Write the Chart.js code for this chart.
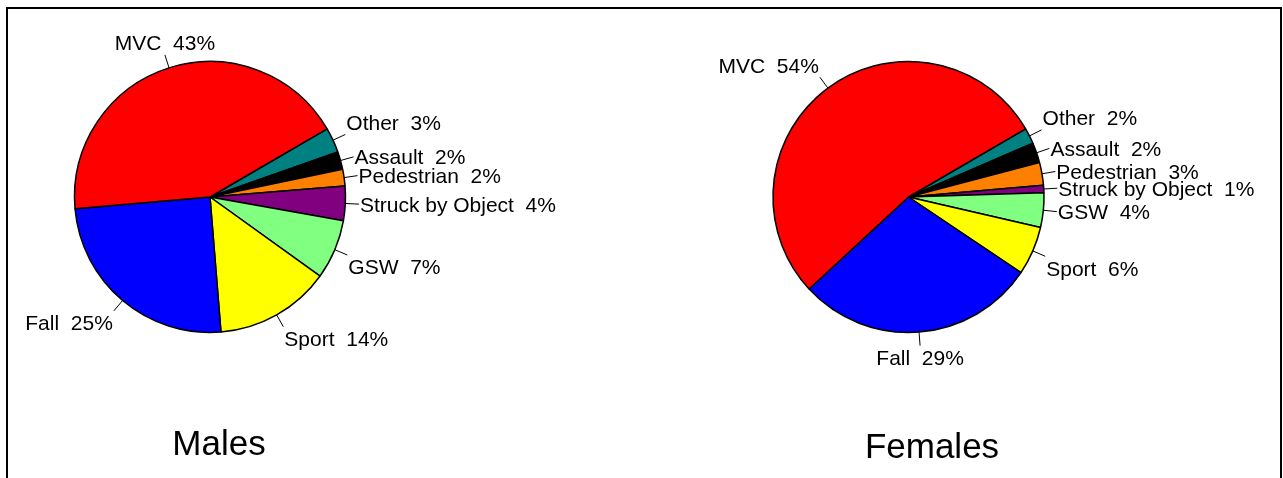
<!DOCTYPE html>
<html>
<head>
<meta charset="utf-8">
<title>Injury mechanism by sex</title>
<script src="https://cdn.jsdelivr.net/npm/chart.js@4.4.1/dist/chart.umd.min.js"></script>
<style>
  html, body { margin: 0; padding: 0; background: #fff; }
  body { width: 1283px; height: 478px; position: relative; overflow: hidden; }
  .frame { position: absolute; left: 6px; top: 7px; width: 1276px; height: 500px; border: 2px solid #000; box-sizing: border-box; }
  .panel { position: absolute; top: 0; }
</style>
</head>
<body>
<div class="frame"></div>
<canvas id="malesChart" class="panel" style="left:0" width="640" height="478"></canvas>
<canvas id="femalesChart" class="panel" style="left:640px" width="643" height="478"></canvas>
<script>
// ─── DATA ─────────────────────────────────────────────────────────
// slices listed clockwise, starting just below "MVC"
const categories   = ['Other', 'Assault', 'Pedestrian', 'Struck by Object', 'GSW', 'Sport', 'Fall', 'MVC'];
const sliceColors  = ['#008080', '#000000', '#FF8000', '#800080', '#80FF80', '#FFFF00', '#0000FF', '#FF0000'];

const malesValues   = [3.0, 2.1, 2.0, 4.1, 7.1, 13.8, 24.9, 43.0];
const malesShares   = ['3%', '2%', '2%', '4%', '7%', '14%', '25%', '43%'];

const femalesValues = [1.9, 2.4, 2.7, 0.9, 4.1, 5.8, 28.7, 53.5];
const femalesShares = ['2%', '2%', '3%', '1%', '4%', '6%', '29%', '54%'];

const FONT = '"Liberation Sans", Arial, Helvetica, sans-serif';
Chart.defaults.font.family = FONT;

// ─── LABEL PLUGIN (tick + "name  pct" outside each slice, plus title) ─
const pieLabels = {
    id: 'pieLabels',
    afterDatasetsDraw(chart, args, opts) {
        const ctx = chart.ctx;
        const meta = chart.getDatasetMeta(0);
        ctx.save();
        ctx.strokeStyle = '#000';
        ctx.fillStyle = '#000';
        ctx.lineWidth = 1;
        ctx.font = '21px ' + FONT;
        ctx.textBaseline = 'alphabetic';
        meta.data.forEach((arc, i) => {
            const p = arc.getProps(['x', 'y', 'startAngle', 'endAngle', 'outerRadius'], true);
            const mid = (p.startAngle + p.endAngle) / 2;
            const c = Math.cos(mid), s = Math.sin(mid);   // s > 0 means downward
            const r = p.outerRadius;
            const px = p.x + 1.1 * r * c, py = p.y + 1.1 * r * s;
            ctx.beginPath();
            ctx.moveTo(p.x + r * c, p.y + r * s);
            ctx.lineTo(px, py);
            ctx.stroke();

            let dx = 0;
            if (Math.abs(c) < 0.4) ctx.textAlign = 'center';
            else if (c > 0) { ctx.textAlign = 'left'; dx = 1; }
            else { ctx.textAlign = 'right'; dx = -1; }
            const dy = Math.abs(s) < 0.35 ? 0 : (s > 0 ? 12 : -12);
            ctx.fillText(chart.data.labels[i] + '  ' + opts.shares[i], px + dx, py + dy + 7.5);
        });
        ctx.font = '35px ' + FONT;
        ctx.textAlign = 'center';
        ctx.fillText(opts.title, opts.titleX, opts.titleY);
        ctx.restore();
    }
};

function buildPie(canvasId, values, shares, title, padding, titleX, titleY) {
    return new Chart(document.getElementById(canvasId), {
        type: 'pie',
        data: {
            labels: categories,
            datasets: [{
                data: values,
                backgroundColor: sliceColors,
                borderColor: '#000',
                borderWidth: 1.5,
                hoverOffset: 0
            }]
        },
        options: {
            responsive: false,
            animation: false,
            events: [],
            rotation: 59.8,
            radius: 135.5,
            layout: { padding },
            plugins: {
                legend: { display: false },
                tooltip: { enabled: false },
                pieLabels: { shares, title, titleX, titleY }
            }
        },
        plugins: [pieLabels]
    });
}

buildPie('malesChart', malesValues, malesShares, 'Males',
    { left: 0, top: 0, right: 220, bottom: 84 }, 219, 455);
buildPie('femalesChart', femalesValues, femalesShares, 'Females',
    { left: 0, top: 0, right: 106, bottom: 84 }, 292, 458);
</script>
</body>
</html>
